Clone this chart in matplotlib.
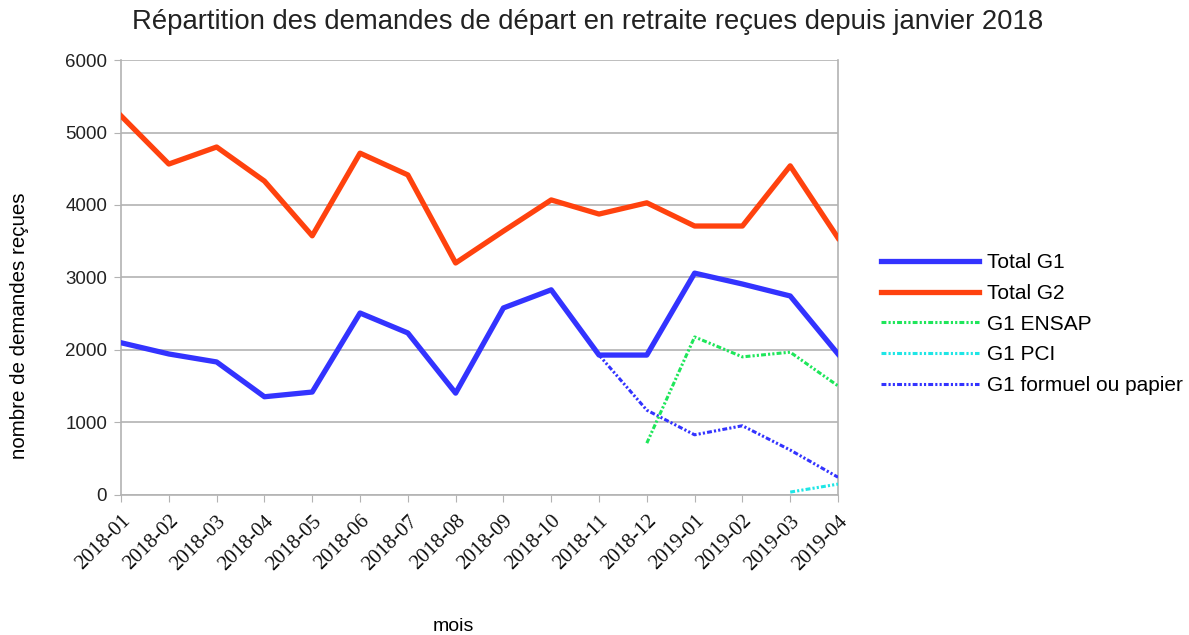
import numpy as np
import matplotlib.pyplot as plt

plt.rcParams['font.family'] = ['Liberation Sans', 'DejaVu Sans']

# monthly values
mois = ['2018-01', '2018-02', '2018-03', '2018-04', '2018-05', '2018-06',
        '2018-07', '2018-08', '2018-09', '2018-10', '2018-11', '2018-12',
        '2019-01', '2019-02', '2019-03', '2019-04']
total_g1 = [2100, 1945, 1835, 1355, 1420, 2510, 2235, 1405, 2580, 2830,
            1930, 1930, 3060, 2910, 2745, 1945]
total_g2 = [5230, 4565, 4800, 4330, 3575, 4715, 4415, 3200, 3640, 4070,
            3875, 4030, 3710, 3710, 4540, 3545]
g1_ensap = [np.nan] * 11 + [715, 2180, 1905, 1970, 1505]
g1_pci = [np.nan] * 14 + [40, 150]
g1_papier = total_g1[:11] + [1170, 830, 955, 620, 245]

x = np.arange(len(mois))

fig = plt.figure(figsize=(11.89, 6.35), dpi=100)
ax = fig.add_axes([0.1018, 0.2205, 0.603, 0.685])

dash = (1.6, 0.7, 0.7, 0.7, 0.7, 0.7)
ax.plot(x, g1_papier, color='#3333ff', lw=2.2, dashes=dash, label='G1 formuel ou papier', zorder=3)
ax.plot(x, total_g1, color='#3333ff', lw=3.8, label='Total G1', zorder=4)
ax.plot(x, total_g2, color='#ff420e', lw=3.8, label='Total G2', zorder=4)
ax.plot(x, g1_ensap, color='#1ee65a', lw=2.2, dashes=dash, label='G1 ENSAP', zorder=3)
ax.plot(x, g1_pci, color='#1ee6e6', lw=2.2, dashes=dash, label='G1 PCI', zorder=3)

ax.set_xlim(0, len(mois) - 1)
ax.set_ylim(0, 6000)
ax.set_yticks(range(0, 6001, 1000))
ax.set_xticks(x)
ax.set_xticklabels(mois, rotation=45, ha='right', rotation_mode='anchor',
                   family='Liberation Serif', fontsize=15)
ax.tick_params(axis='y', labelsize=13.5, colors='#b3b3b3', labelcolor='#222222', length=5, pad=5)
ax.tick_params(axis='x', colors='#b3b3b3', labelcolor='#111111', length=5, pad=7)
ax.grid(axis='y', color='#b3b3b3', lw=1.2)
ax.set_axisbelow(True)
for side in ['left', 'right', 'bottom']:
    ax.spines[side].set_color('#b3b3b3')
    ax.spines[side].set_linewidth(1.2)
ax.spines['top'].set_visible(False)

ax.set_ylabel('nombre de demandes reçues', fontsize=14.8)
ax.yaxis.set_label_coords(-0.128, 0.39)
fig.text(0.381, 0.0, 'mois', fontsize=14, ha='center', va='bottom')
fig.text(0.494, 0.965, 'Répartition des demandes de départ en retraite reçues depuis janvier 2018',
         fontsize=19.8, ha='center', va='center', color='#222222')

handles, labels = ax.get_legend_handles_labels()
order = ['Total G1', 'Total G2', 'G1 ENSAP', 'G1 PCI', 'G1 formuel ou papier']
hmap = dict(zip(labels, handles))
fig.legend([hmap[k] for k in order], order, loc='upper left',
           bbox_to_anchor=(0.734, 0.614), frameon=False, fontsize=15,
           handlelength=4.7, handletextpad=0.4, labelspacing=0.56,
           borderaxespad=0, borderpad=0.4)

fig.savefig('out.png', dpi=100)
